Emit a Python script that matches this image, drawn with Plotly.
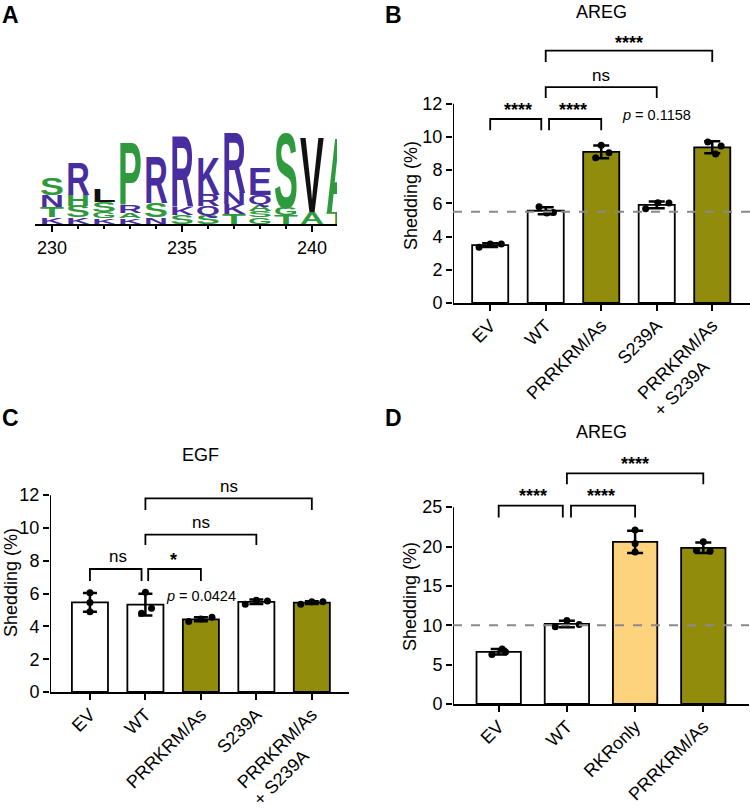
import numpy as np
import plotly.graph_objects as go

# ---------------- DATA ----------------
# Panel A: sequence logo (letters bottom -> top at each position, heights in bits)
LOGO_POSITIONS = [230, 231, 232, 233, 234, 235, 236, 237, 238, 239, 240, 241]
LOGO_LETTERS = ["KTNS", "KSHR", "KGSL", "KARP", "NSR", "SKR", "SQRK", "TKNR", "GSAQE", "TGS", "AV", "TA"]
LOGO_HEIGHTS = [
    [0.3, 0.45, 0.55, 0.75],
    [0.3, 0.5, 0.5, 1.5],
    [0.25, 0.3, 0.45, 0.6],
    [0.25, 0.25, 0.35, 2.85],
    [0.3, 0.65, 2.1],
    [0.4, 0.35, 3.25],
    [0.4, 0.4, 0.5, 1.7],
    [0.45, 0.45, 0.5, 2.75],
    [0.3, 0.3, 0.3, 0.4, 1.25],
    [0.4, 0.33, 3.4],
    [0.55, 3.4],
    [0.5, 3.4],
]
LOGO_TICKS = [230, 235, 240]

NB = "\u00a0"
# Panel B: AREG shedding (%)
B_CATS = ["EV", "WT", "PRRKRM/As", "S239A", "PRRKRM/As<br>+ S239A" + NB * 7]
B_REPS = [[3.35, 3.55, 3.55], [5.8, 5.42, 5.45], [8.75, 9.5, 9.05], [5.68, 6.04, 6.02], [9.7, 8.98, 9.45]]
B_BASELINE = 5.5
B_COMPARISONS = [(0, 1, "<b>****</b>"), (1, 2, "<b>****</b>"), (1, 3, "ns"), (1, 4, "<b>****</b>")]
B_PVALUE = (3, "<i>p</i> = 0.1158")

# Panel C: EGF shedding (%)
C_CATS = ["EV", "WT", "PRRKRM/As", "S239A", "PRRKRM/As<br>+ S239A" + NB * 7]
C_REPS = [[6.05, 5.45, 4.9], [6.08, 5.1, 4.8], [4.3, 4.45, 4.55], [5.35, 5.6, 5.55], [5.35, 5.5, 5.5]]
C_COMPARISONS = [(0, 1, "ns"), (1, 2, "<b>*</b>"), (1, 3, "ns"), (1, 4, "ns")]
C_PVALUE = (2, "<i>p</i> = 0.0424")

# Panel D: AREG shedding (%)
D_CATS = ["EV", "WT", "RKRonly", "PRRKRM/As"]
D_REPS = [[6.3, 7.0, 6.6], [9.8, 10.6, 10.1], [22.1, 20.4, 19.3], [19.5, 20.6, 19.4]]
D_BASELINE = 10
D_COMPARISONS = [(0, 1, "<b>****</b>"), (1, 2, "<b>****</b>"), (1, 3, "<b>****</b>")]

# ---------------- STYLE ----------------
FONT = "Liberation Sans, Arial, Helvetica, sans-serif"
WHITE, OLIVE, ORANGE = "#ffffff", "#918c0b", "#fdd37d"
GREEN, BLUE, BLACK = "#2f9a3d", "#472da0", "#111111"
LETTER_COLOR = {c: GREEN for c in "STGPAHYC"}
LETTER_COLOR.update({c: BLUE for c in "RKENQD"})
LETTER_COLOR.update({c: BLACK for c in "LVIMFW"})
B_COLORS = [WHITE, WHITE, OLIVE, WHITE, OLIVE]
C_COLORS = [WHITE, WHITE, OLIVE, WHITE, OLIVE]
D_COLORS = [WHITE, WHITE, ORANGE, OLIVE]
B_OFFSETS = [[-0.2, 0, 0.2], [-0.12, 0.02, 0.14], [-0.1, 0, 0.14], [-0.2, 0.02, 0.22], [-0.08, 0.06, 0.16]]
C_OFFSETS = [[0, 0, 0], [0, 0.11, -0.07], [-0.22, 0, 0.2], [-0.2, 0, 0.2], [-0.2, 0, 0.2]]
D_OFFSETS = [[-0.1, 0.05, 0.1], [-0.17, 0, 0.18], [0, 0, 0], [-0.1, 0, 0.1]]
TICK_FS = 18

W, H = 750, 808
def px(v, total): return v / total
def py(v): return 1 - v / H

LOGO_FS = 30
fig = go.Figure()

# ---------------- Panel A: logo ----------------
lx, ly, lt, lc, lh = [], [], [], [], []
for pos, letters, heights in zip(LOGO_POSITIONS, LOGO_LETTERS, LOGO_HEIGHTS):
    bottoms = np.concatenate([[0], np.cumsum(heights)[:-1]])
    for ch, b, h in zip(letters, bottoms, heights):
        lx.append(pos); ly.append(float(b)); lt.append(ch); lc.append(LETTER_COLOR[ch]); lh.append(h)
fig.add_trace(go.Scatter(x=lx, y=ly, text=lt, customdata=lh, mode="text", textposition="top center",
                         textfont=dict(family=FONT, size=LOGO_FS, color=lc, weight="bold"),
                         uid="logo", xaxis="x", yaxis="y", hoverinfo="skip", showlegend=False))

# ---------------- Bar panels ----------------
def bar_panel(cats, reps, colors, offsets, xa, ya, xr, ytop, capw, comps, levels, label_y, insets):
    idx = np.arange(len(cats))
    means = np.array([np.mean(r) for r in reps])
    sds = np.array([np.std(r, ddof=1) for r in reps])
    fig.add_trace(go.Bar(x=idx, y=means, width=0.65, xaxis=xa, yaxis=ya,
                         marker=dict(color=colors, line=dict(color="black", width=1.8)),
                         error_y=dict(type="data", array=sds, color="black", thickness=2.5, width=capw),
                         hoverinfo="skip", showlegend=False))
    pxs, pys = [], []
    for i, (r, o) in enumerate(zip(reps, offsets)):
        for v, d in zip(r, o):
            pxs.append(i + d); pys.append(v)
    fig.add_trace(go.Scatter(x=pxs, y=pys, mode="markers", xaxis=xa, yaxis=ya,
                             marker=dict(color="black", size=7), hoverinfo="skip", showlegend=False))
    # y axis line (only up to last tick)
    fig.add_trace(go.Scatter(x=[xr[0], xr[0]], y=[0, ytop], mode="lines", xaxis=xa, yaxis=ya,
                             line=dict(color="black", width=2), cliponaxis=False,
                             hoverinfo="skip", showlegend=False))
    for (i, j, lab), (lev, drop), ly_, (ii, ij) in zip(comps, levels, label_y, insets):
        x0, x1 = i + ii, j + ij
        fig.add_shape(type="path", xref=xa, yref=ya,
                      path=f"M {x0},{lev - drop} L {x0},{lev} L {x1},{lev} L {x1},{lev - drop}",
                      line=dict(color="black", width=1.8))
        fig.add_annotation(x=(i + j) / 2, y=ly_, xref=xa, yref=ya, text=lab, showarrow=False,
                           font=dict(size=17 if "ns" in lab else 18, family=FONT, color="black"))
    return idx, means

# B
B_XR = [-0.67, 4.68]
bar_panel(B_CATS, B_REPS, B_COLORS, B_OFFSETS, "x2", "y2", B_XR, 12, 8, B_COMPARISONS,
          [(11.08, 0.68), (11.08, 0.68), (13.0, 0.65), (15.2, 0.68)],
          [11.63, 11.63, 13.73, 15.68],
          [(0, -0.08), (0.06, 0), (0, 0), (0, 0)])
fig.add_shape(type="line", xref="x2", yref="y2", x0=B_XR[0], x1=B_XR[1], y0=B_BASELINE, y1=B_BASELINE,
              line=dict(color="#8a8a8a", width=2, dash="dash"), layer="above")
fig.add_annotation(x=B_PVALUE[0], y=11.35, xref="x2", yref="y2", text=B_PVALUE[1], showarrow=False,
                   font=dict(size=14.5, family=FONT, color="black"))

# C
C_XR = [-0.72, 4.67]
bar_panel(C_CATS, C_REPS, C_COLORS, C_OFFSETS, "x3", "y3", C_XR, 12, 7, C_COMPARISONS,
          [(7.5, 0.73), (7.5, 0.73), (9.6, 0.64), (11.8, 0.7)],
          [8.25, 8.05, 10.35, 12.55],
          [(0, -0.07), (0.05, 0), (0, 0), (0, 0)])
fig.add_annotation(x=C_PVALUE[0], y=5.85, xref="x3", yref="y3", text=C_PVALUE[1], showarrow=False,
                   font=dict(size=14.5, family=FONT, color="black"))

# D
D_XR = [-0.67, 3.67]
bar_panel(D_CATS, D_REPS, D_COLORS, D_OFFSETS, "x4", "y4", D_XR, 25, 8, D_COMPARISONS,
          [(25.2, 1.5), (25.2, 1.5), (29.3, 1.4)],
          [26.4, 26.4, 30.5],
          [(0, -0.06), (0.06, 0), (0, 0)])
fig.add_shape(type="line", xref="x4", yref="y4", x0=D_XR[0], x1=D_XR[1], y0=D_BASELINE, y1=D_BASELINE,
              line=dict(color="#8a8a8a", width=2, dash="dash"), layer="above")

# ---------------- Axes ----------------
def cat_xaxis(dom, xr, cats):
    return dict(domain=dom, range=xr, tickvals=list(range(len(cats))), ticktext=cats, tickangle=-45,
                ticks="outside", ticklen=6, tickwidth=2, tickcolor="black", showline=True, linewidth=2,
                linecolor="black", showgrid=False, zeroline=False, ticklabelstandoff=-3,
                tickfont=dict(size=TICK_FS, family=FONT, color="black"), fixedrange=True)

def val_yaxis(dom, yr, tv, anchor):
    return dict(domain=dom, range=yr, tickvals=tv, ticks="outside", ticklen=6, tickwidth=2, tickcolor="black",
                showline=False, showgrid=False, zeroline=False, anchor=anchor,
                tickfont=dict(size=TICK_FS, family=FONT, color="black"))

fig.update_layout(
    xaxis=dict(domain=[px(35, W), px(337, W)], range=[229.35, 240.96], anchor="y", tickvals=LOGO_TICKS,
               ticks="outside", ticklen=6, tickwidth=2, tickcolor="black", showline=True, linewidth=2,
               linecolor="black", showgrid=False, zeroline=False,
               minor=dict(dtick=1, tick0=230, ticks="outside", ticklen=3, tickwidth=1.5, tickcolor="black"),
               tickfont=dict(size=18, family=FONT, color="black")),
    yaxis=dict(domain=[py(224), py(129.4)], range=[0, 4.3], visible=False, anchor="x"),
    xaxis2=dict(cat_xaxis([px(453, W), 1.0], B_XR, B_CATS), anchor="y2"),
    yaxis2=val_yaxis([py(303), py(29)], [0, 16.5], list(range(0, 13, 2)), "x2"),
    xaxis3=dict(cat_xaxis([px(50, W), px(349, W)], C_XR, C_CATS), anchor="y3"),
    yaxis3=val_yaxis([py(692), py(475.5)], [0, 13.2], list(range(0, 13, 2)), "x3"),
    xaxis4=dict(cat_xaxis([px(453, W), px(749, W)], D_XR, D_CATS), anchor="y4"),
    yaxis4=val_yaxis([py(704), py(456)], [0, 31.5], list(range(0, 26, 5)), "x4"),
)

# ---------------- Text annotations ----------------
def paper_text(x, y, text, size, bold=False, angle=0):
    fig.add_annotation(x=px(x, W), y=py(y), xref="paper", yref="paper", text=f"<b>{text}</b>" if bold else text,
                       showarrow=False, textangle=angle, xanchor="center", yanchor="middle",
                       font=dict(size=size, family=FONT, color="black"))

paper_text(10, 15.5, "A", 23, bold=True)
paper_text(393, 15, "B", 23, bold=True)
paper_text(10, 418, "C", 23, bold=True)
paper_text(393, 418, "D", 23, bold=True)
paper_text(601, 12, "AREG", 18)
paper_text(200, 455, "EGF", 18)
paper_text(601, 432, "AREG", 18)
paper_text(411, 196, "Shedding (%)", 18, angle=-90)
paper_text(11, 583, "Shedding (%)", 18, angle=-90)
paper_text(410, 597, "Shedding (%)", 18, angle=-90)

fig.update_layout(width=W, height=H, margin=dict(l=0, r=0, t=0, b=0), template="none",
                  plot_bgcolor="white", paper_bgcolor="white", showlegend=False,
                  font=dict(family=FONT, color="black"))

post = """
var gd = document.getElementById('{plot_id}');
(function(){
  var fd = null;
  gd._fullData.forEach(function(t){ if (t.uid === 'logo') fd = t; });
  if (!fd) return;
  var xa = gd._fullLayout.xaxis, ya = gd._fullLayout.yaxis;
  var pxX = Math.abs(xa._m), pxY = Math.abs(ya._m);
  var hs = fd.customdata;
  var texts = gd.querySelectorAll('.subplot.xy .textpoint text');
  texts.forEach(function(t, i){
    var bb = t.getBBox();
    var x = parseFloat(t.getAttribute('x')), y = parseFloat(t.getAttribute('y'));
    if (isNaN(x)) x = bb.x + bb.width / 2;
    if (isNaN(y)) y = bb.y + bb.height * 0.81;
    var pdx = 0, pdy = 0;
    var tl = t.parentNode.transform.baseVal;
    if (tl.numberOfItems) { var m = tl.consolidate().matrix; pdx = m.e; pdy = m.f; }
    var sy = hs[i] * pxY / (0.70 * FS);
    var sx = 0.92 * pxX / bb.width;
    t.setAttribute('transform', 'translate(' + (x - pdx) + ',' + (y - pdy) + ') scale(' + sx + ',' + sy + ') translate(' + (-x) + ',' + (-y) + ')');
  });
})();
""".replace("FS", str(LOGO_FS))

fig.write_html("out.html", post_script=post)
